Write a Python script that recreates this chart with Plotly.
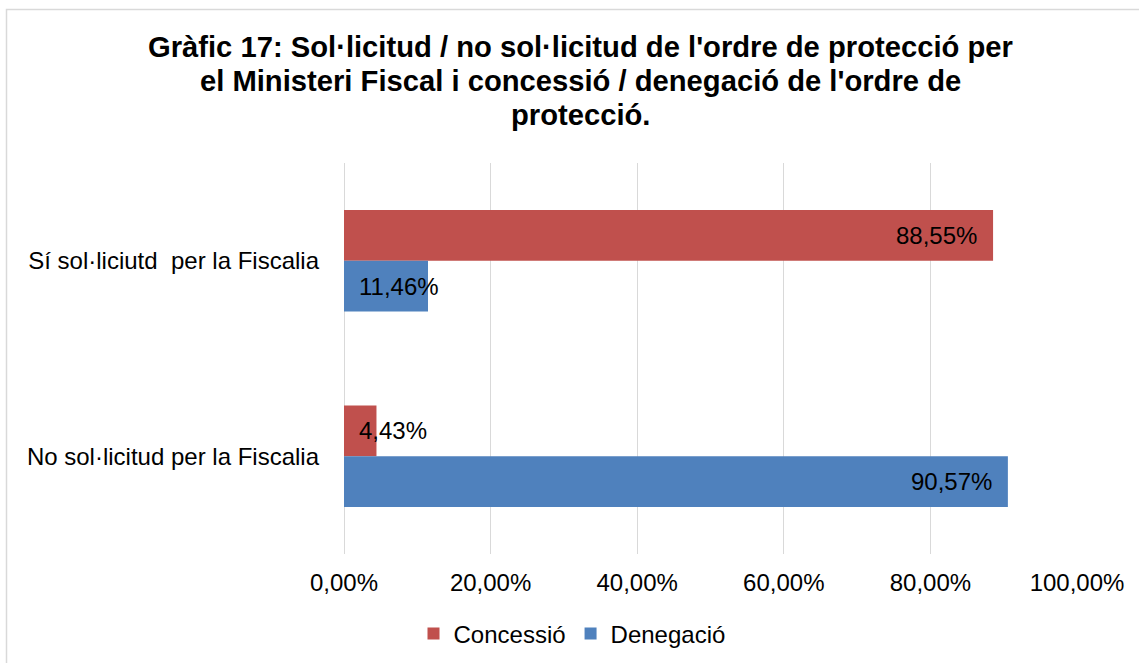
import plotly.graph_objects as go

# ---- data ----
categories = ["Sí sol·liciutd  per la Fiscalia", "No sol·licitud per la Fiscalia"]
series_names = ["Concessió", "Denegació"]
concessio = [0.8855, 0.0443]
denegacio = [0.1146, 0.9057]
x_ticks = [0, 0.2, 0.4, 0.6, 0.8, 1.0]
title_lines = [
    "Gràfic 17: Sol·licitud / no sol·licitud de l'ordre de protecció per",
    "el Ministeri Fiscal i concessió / denegació de l'ordre de",
    "protecció.",
]
colors = ["#C0504D", "#4F81BD"]

W, H = 1139, 663
L, R, T, B = 344, 62, 163, 109
PW, PH = W - L - R, H - T - B

def px_x(px):
    return (px - L) / PW

def px_y(py):
    return (H - B - py) / PH

FONT = "Liberation Sans, Arial, sans-serif"

fig = go.Figure()
for name, vals, col in zip(series_names, [concessio, denegacio], colors):
    fig.add_trace(go.Bar(
        y=categories, x=vals, name=name, orientation="h",
        marker=dict(color=col, line=dict(width=0)),
        hoverinfo="x+y+name",
    ))

bargap = 0.48
bar_w = (1 - bargap) / len(series_names)
annotations = []
for si, vals in enumerate([concessio, denegacio]):
    off = -(1 - bargap) / 2 + bar_w * (si + 0.5)
    for ci, v in enumerate(vals):
        txt = f"{v*100:.2f}%".replace(".", ",")
        if v > 0.5:
            annotations.append(dict(x=v, y=ci + off, xref="x", yref="y", text=txt,
                                    xanchor="right", yanchor="middle", xshift=-14,
                                    showarrow=False, font=dict(size=24, color="#000000", family=FONT)))
        else:
            annotations.append(dict(x=0, y=ci + off, xref="x", yref="y", text=txt,
                                    xanchor="left", yanchor="middle", xshift=13,
                                    showarrow=False, font=dict(size=24, color="#000000", family=FONT)))

title_centers = [47, 81, 115]
for line, yc in zip(title_lines, title_centers):
    annotations.append(dict(x=px_x(580), y=px_y(yc), xref="paper", yref="paper",
                            text=f"<b>{line}</b>", showarrow=False,
                            xanchor="center", yanchor="middle",
                            font=dict(size=29.2, color="#000000", family=FONT)))

fig.update_layout(
    width=W, height=H,
    margin=dict(l=L, r=R, t=T, b=B, autoexpand=False),
    paper_bgcolor="white", plot_bgcolor="white",
    barmode="group", bargap=bargap, bargroupgap=0,
    separators=",.",
    font=dict(family=FONT, size=24, color="#000000"),
    showlegend=True,
    legend=dict(orientation="h", x=px_x(572), y=px_y(634), xanchor="center", yanchor="middle",
                font=dict(size=24, color="#000000", family=FONT), traceorder="normal",
                bgcolor="rgba(0,0,0,0)"),
    annotations=annotations,
    shapes=[dict(type="rect", xref="paper", yref="paper",
                 x0=px_x(6.5), x1=px_x(1200), y0=px_y(700), y1=px_y(9.5),
                 line=dict(color="#D9D9D9", width=1.5), fillcolor="rgba(0,0,0,0)", layer="below")],
)
fig.update_xaxes(range=[0, 1], tickvals=x_ticks, tickformat=".2%",
                 showgrid=True, gridcolor="#D9D9D9", gridwidth=1.3,
                 zeroline=True, zerolinecolor="#D9D9D9", zerolinewidth=1.3,
                 showline=False, ticks="", ticklabelstandoff=12,
                 tickfont=dict(size=24, color="#000000", family=FONT), fixedrange=True)
fig.update_yaxes(autorange="reversed", showgrid=False, zeroline=False, showline=False,
                 ticks="", ticklabelstandoff=24,
                 tickfont=dict(size=24, color="#000000", family=FONT), fixedrange=True)

fig.write_html("out.html", config={"displayModeBar": False},
               post_script="document.body.style.margin='0';document.body.style.overflow='hidden';")
